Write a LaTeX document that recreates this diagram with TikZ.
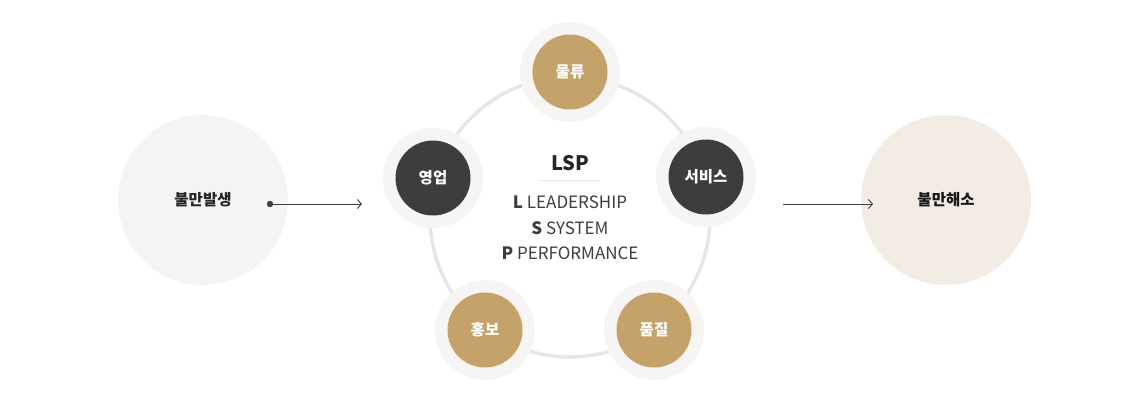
\documentclass[tikz,border=0pt]{standalone}
\usepackage{fontspec}
\setmainfont{Noto Sans CJK KR}
\usetikzlibrary{arrows.meta}
\definecolor{dark}{HTML}{3D3D3D}
\definecolor{gold}{HTML}{C4A26A}
\definecolor{halo}{HTML}{F7F5F3}
\definecolor{lgray}{HTML}{F4F4F4}
\definecolor{beige}{HTML}{F3ECE5}
\definecolor{ring}{HTML}{E6E6E6}
\begin{document}
\begin{tikzpicture}[x=1pt,y=-1pt,
  halobox/.style={circle,fill=halo,minimum size=100pt,inner sep=0pt},
  darkbox/.style={circle,fill=dark,minimum size=75pt,inner sep=0pt,text=white,font=\bfseries\fontsize{15.5}{18}\selectfont},
  goldbox/.style={circle,fill=gold,minimum size=75pt,inner sep=0pt,text=white,font=\bfseries\fontsize{15.5}{18}\selectfont},
  bigbox/.style={circle,minimum size=170pt,inner sep=0pt,font=\bfseries\fontsize{15.5}{18}\selectfont,text=black!85},
  arr/.style={draw=dark,line width=0.9pt,-{Straight Barb[length=4pt,width=9pt]}},
  txt/.style={font=\fontsize{17}{20}\selectfont,text=dark}]
\useasboundingbox (0,0) rectangle (1140,400);
\node[bigbox,fill=lgray] (left) at (203,200) {불만발생};
\node[bigbox,fill=beige,text=black!90] (right) at (946,200) {불만해소};
\draw[ring,line width=3.5pt] (570,217) circle (140);
\foreach \n/\x/\y in {h1/570/72,h2/433/178,h3/706/177,h4/485/330,h5/654/330}
  \node[halobox] (\n) at (\x,\y) {};
\node[goldbox] (a) at (570,72) {물류};
\node[darkbox] (b) at (433,178) {영업};
\node[darkbox] (c) at (706,177) {서비스};
\node[goldbox] (d) at (485,330) {홍보};
\node[goldbox] (e) at (654,330) {품질};
\node[font=\bfseries\fontsize{20}{22}\selectfont,text=black!85] (lsp) at (570,163) {LSP};
\coordinate (l1) at (540,180); \coordinate (l2) at (600,180);
\draw[ring,line width=0.8pt] (l1) -- (l2);
\node[txt] (t1) at (570,202) {\textbf{L} LEADERSHIP};
\node[txt] (t2) at (570,228) {\textbf{S} SYSTEM};
\node[txt] (t3) at (570,253) {\textbf{P} PERFORMANCE};
\coordinate (s1) at (270,204); \coordinate (e1) at (362,204);
\coordinate (s2) at (783,204); \coordinate (e2) at (873,204);
\fill[dark] (s1) circle (3.2);
\draw[arr] (s1) -- (e1);
\draw[arr] (s2) -- (e2);
\end{tikzpicture}
\end{document}
